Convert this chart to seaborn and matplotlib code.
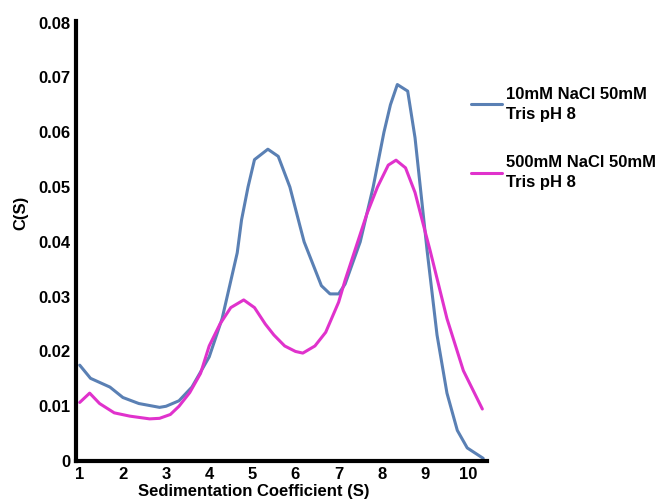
import numpy as np
import pandas as pd
import matplotlib
matplotlib.use("Agg")
import matplotlib.pyplot as plt
import seaborn as sns

# ==============================
# Data
# ==============================
blue_label = "10mM NaCl 50mM\nTris pH 8"
pink_label = "500mM NaCl 50mM\nTris pH 8"

blue_s = [1.0, 1.25, 1.7, 2.0, 2.37, 2.85, 3.0, 3.3, 3.6, 4.0, 4.3, 4.65, 4.75,
          4.9, 5.05, 5.36, 5.6, 5.87, 6.1, 6.2, 6.45, 6.6, 6.8, 7.0, 7.15, 7.5,
          7.8, 8.05, 8.2, 8.36, 8.6, 8.77, 9.05, 9.28, 9.51, 9.75, 9.98, 10.35]
blue_c = [0.0175, 0.0151, 0.0135, 0.0116, 0.0105, 0.0098, 0.0100, 0.0110, 0.0135,
          0.0190, 0.0260, 0.0380, 0.0440, 0.0500, 0.0550, 0.0569, 0.0556, 0.0500,
          0.0430, 0.0400, 0.0350, 0.0320, 0.0305, 0.0305, 0.0323, 0.0400, 0.0500,
          0.0600, 0.0650, 0.0687, 0.0675, 0.0590, 0.0384, 0.0230, 0.0124, 0.0056,
          0.0024, 0.0005]

pink_s = [1.0, 1.23, 1.46, 1.8, 2.16, 2.62, 2.85, 3.1, 3.3, 3.55, 3.8, 4.0, 4.25,
          4.5, 4.8, 5.05, 5.3, 5.5, 5.75, 6.0, 6.17, 6.45, 6.7, 7.0, 7.15, 7.4,
          7.65, 7.9, 8.15, 8.33, 8.55, 8.77, 9.0, 9.12, 9.51, 9.89, 10.33]
pink_c = [0.0107, 0.0124, 0.0105, 0.0088, 0.0082, 0.0077, 0.0078, 0.0085, 0.0100,
          0.0125, 0.0160, 0.0210, 0.0250, 0.0280, 0.0294, 0.0280, 0.0250, 0.0230,
          0.0210, 0.0200, 0.0197, 0.0210, 0.0235, 0.0290, 0.0330, 0.0390, 0.0450,
          0.0500, 0.0540, 0.0549, 0.0535, 0.0490, 0.0420, 0.0384, 0.0260, 0.0165,
          0.0095]

x_ticks = list(range(1, 11))
y_ticks = [0, 0.01, 0.02, 0.03, 0.04, 0.05, 0.06, 0.07, 0.08]
y_tick_labels = ["0", "0.01", "0.02", "0.03", "0.04", "0.05", "0.06", "0.07", "0.08"]

df = pd.concat([
    pd.DataFrame({"s": blue_s, "c": blue_c, "buffer": blue_label}),
    pd.DataFrame({"s": pink_s, "c": pink_c, "buffer": pink_label}),
])

sns.set_style("white")
plt.rcParams["font.family"] = ["Liberation Sans", "DejaVu Sans"]
plt.rcParams["font.weight"] = "bold"
plt.rcParams["text.color"] = "black"
plt.rcParams["axes.labelcolor"] = "black"
plt.rcParams["xtick.color"] = "black"
plt.rcParams["ytick.color"] = "black"

fig = plt.figure(figsize=(6.7, 4.99), dpi=100)
ax = fig.add_axes([0.113, 0.076, 0.614, 0.882])

sns.lineplot(data=df, x="s", y="c", hue="buffer", sort=False,
             palette={blue_label: "#5a80b4", pink_label: "#e032cc"},
             linewidth=2.2, ax=ax, legend=False)

ax.set_xlim(0.907, 10.44)
ax.set_ylim(0, 0.0803)
ax.set_xticks(x_ticks)
ax.set_yticks(y_ticks)
ax.set_yticklabels(y_tick_labels)
ax.tick_params(axis="both", labelsize=12, length=0, pad=4)
for lab in ax.get_xticklabels() + ax.get_yticklabels():
    lab.set_fontweight("bold")

sns.despine(ax=ax)
for side in ["left", "bottom"]:
    ax.spines[side].set_linewidth(3)
    ax.spines[side].set_color("black")

ax.set_xlabel("Sedimentation Coefficient (S)", fontsize=12, fontweight="bold")
ax.set_ylabel("C(S)", fontsize=12, fontweight="bold")
ax.xaxis.set_label_coords(0.433, -0.052)
ax.yaxis.set_label_coords(-0.114, 0.564)

handles = [plt.Line2D([], [], color="#5a80b4", linewidth=2.2),
           plt.Line2D([], [], color="#e032cc", linewidth=2.2)]
leg = fig.legend(handles, [blue_label, pink_label], loc="upper left",
                 bbox_to_anchor=(0.68, 0.856), frameon=False,
                 prop={"size": 12, "weight": "bold"}, handlelength=1.9,
                 handletextpad=0.2, labelspacing=2.0)
for t in leg.get_texts():
    t.set_linespacing(1.4)

plt.savefig("out.png", dpi=100)
plt.close()
